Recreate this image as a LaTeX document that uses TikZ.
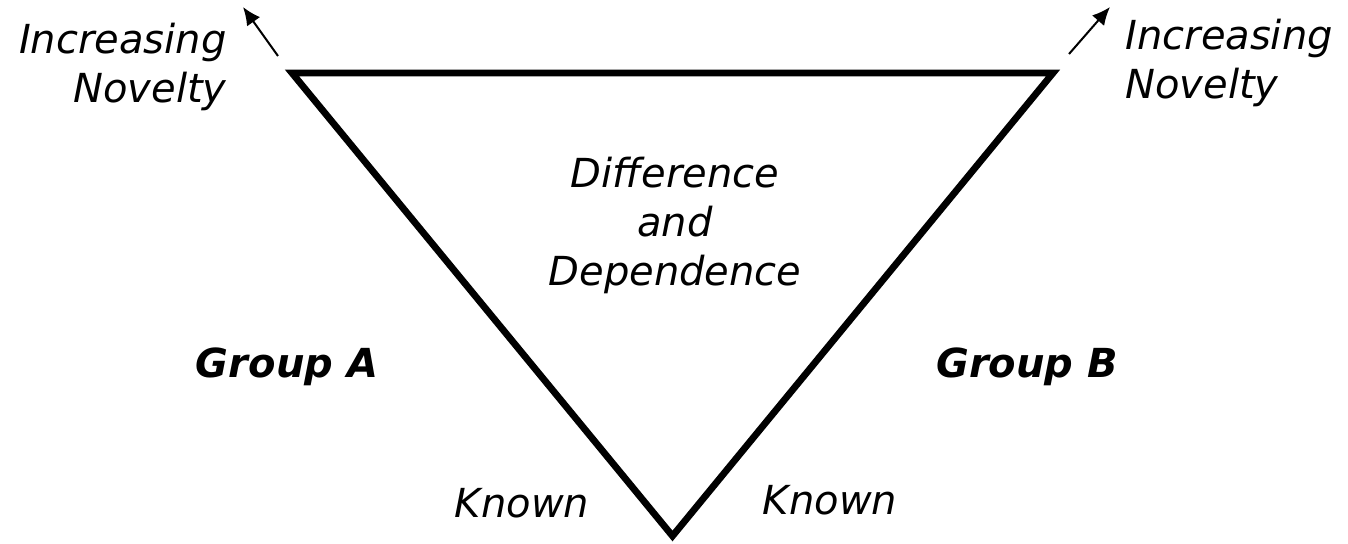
\documentclass[tikz,border=0pt]{standalone}
\usepackage{fontspec}
\setmainfont{DejaVu Sans}
\usetikzlibrary{arrows.meta}
\begin{document}
\begin{tikzpicture}[x=0.5pt,y=-0.5pt,
  lbl/.style={font=\fontsize{20}{24.5}\selectfont\itshape, inner sep=0pt},
  grp/.style={font=\fontsize{20}{24}\selectfont\bfseries\itshape, inner sep=0pt},
  tri/.style={line width=3.4pt, line join=miter},
  novarrow/.style={line width=1pt, -{Latex[length=9pt,width=8pt]}}]
\useasboundingbox (0,0) rectangle (1348,544);
\coordinate (tl) at (292,73);
\coordinate (tr) at (1053,73);
\coordinate (bt) at (672.5,536);
\draw[tri] (tl) -- (tr) -- (bt) -- cycle;
\coordinate (la0) at (278,56);
\coordinate (la1) at (243,7);
\coordinate (ra0) at (1069,54);
\coordinate (ra1) at (1110,7);
\draw[novarrow] (la0) -- (la1);
\draw[novarrow] (ra0) -- (ra1);
\node[lbl, anchor=base east, align=right] (incL) at (227,103) {Increasing\\Novelty};
\node[lbl, anchor=base west, align=left] (incR) at (1125,99) {Increasing\\Novelty};
\node[lbl, anchor=base, align=center] (dd) at (675,286) {Difference\\and\\Dependence};
\node[grp, anchor=base] (ga) at (287,378) {Group A};
\node[grp, anchor=base] (gb) at (1027,378) {Group B};
\node[lbl, anchor=base] (kl) at (522,517) {Known};
\node[lbl, anchor=base] (kr) at (830,515) {Known};
\end{tikzpicture}
\end{document}
